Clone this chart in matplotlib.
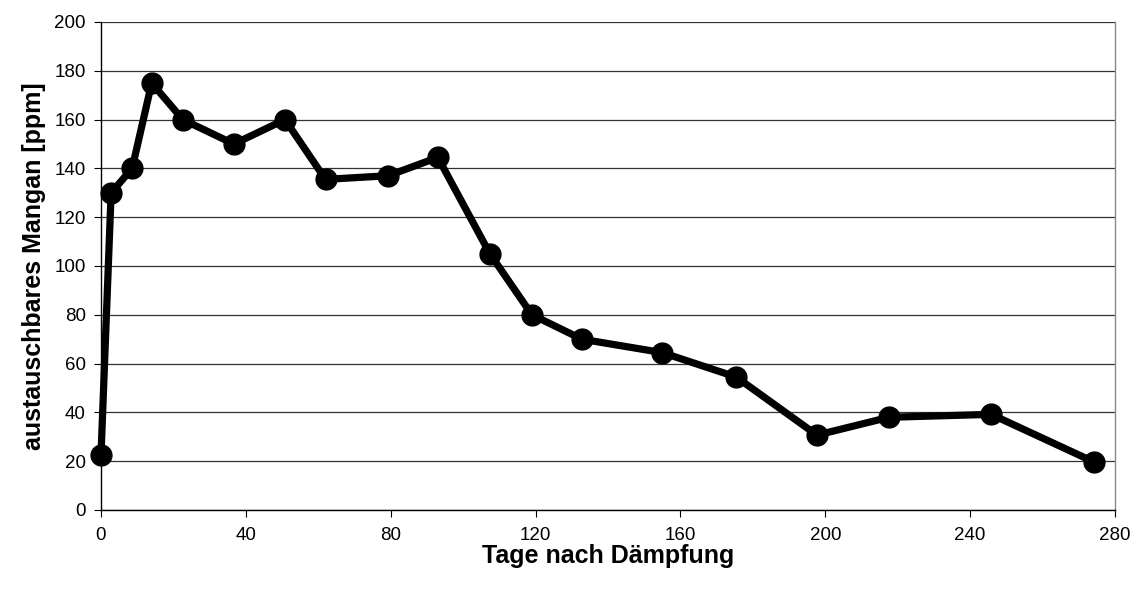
import matplotlib
matplotlib.use("Agg")
import matplotlib.pyplot as plt

days = [0, 2.8, 8.6, 14, 22.6, 36.7, 50.8, 62, 79.3, 93, 107.4, 119, 132.8, 155, 175.4, 197.7, 217.6, 245.8, 274.2]
mangan = [22.5, 130, 140, 175, 160, 150, 160, 135.5, 137, 144.5, 105, 80, 70, 64.5, 54.5, 30.7, 38, 39.2, 19.7]
x_ticks = [0, 40, 80, 120, 160, 200, 240, 280]
y_ticks = [0, 20, 40, 60, 80, 100, 120, 140, 160, 180, 200]

plt.rcParams['font.family'] = ['Liberation Sans', 'DejaVu Sans']

fig = plt.figure(figsize=(11.39, 5.90), dpi=100)
ax = fig.add_axes([101/1139, 80/590, 1014/1139, 488/590])

ax.set_xlim(0, 280)
ax.set_ylim(0, 200)
ax.set_xticks(x_ticks)
ax.set_yticks(y_ticks)
ax.grid(axis='y', color='#333333', linewidth=0.9)
ax.set_axisbelow(True)

ax.plot(days, mangan, color='black', linewidth=5.2, marker='o', markersize=15,
        clip_on=False, zorder=3)

for s in ['left', 'bottom']:
    ax.spines[s].set_color('black')
    ax.spines[s].set_linewidth(1.0)
ax.spines['top'].set_visible(False)
ax.spines['right'].set_color('#888888')
ax.spines['right'].set_linewidth(1.0)

ax.tick_params(axis='both', direction='out', length=5, width=0.8, labelsize=13.5, colors='black')
ax.tick_params(axis='y', pad=6)
ax.tick_params(axis='x', pad=7)
ax.set_xlabel('Tage nach Dämpfung', fontsize=18, fontweight='bold', labelpad=0)
ax.set_ylabel('austauschbares Mangan [ppm]', fontsize=18, fontweight='bold', labelpad=6)

fig.savefig('out.png', dpi=100)
